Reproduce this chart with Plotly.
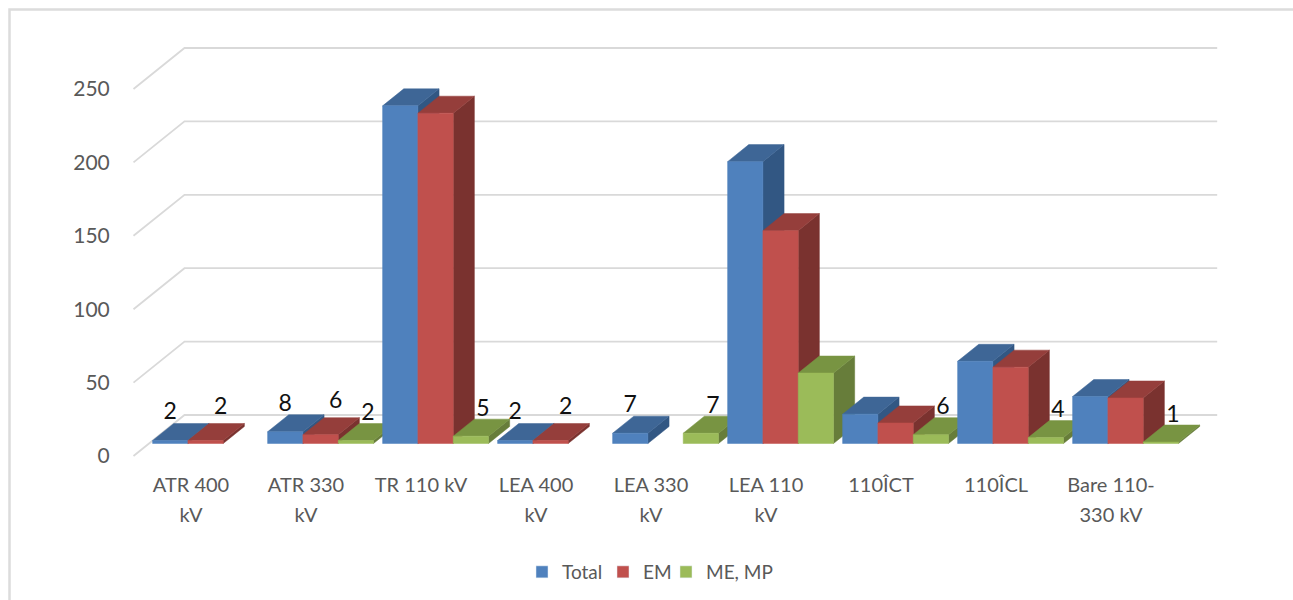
import plotly.graph_objects as go

CATEGORIES_LINE1 = ["ATR 400", "ATR 330", "TR 110 kV", "LEA 400", "LEA 330", "LEA 110", "110ÎCT", "110ÎCL", "Bare 110-"]
CATEGORIES_LINE2 = ["kV", "kV", "", "kV", "kV", "kV", "", "", "330 kV"]
TOTAL = [2, 8, 230, 2, 7, 192, 20, 56, 32]
EM = [2, 6, 225, 2, 0, 145, 14, 52, 31]
ME_MP = [0, 2, 5, 0, 7, 48, 6, 4, 1]
TOTAL_LABELS = [2, 8, None, 2, 7, None, None, None, None]
EM_LABELS = [2, 6, None, 2, None, None, None, None, None]
ME_LABELS = [None, 2, 5, None, 7, None, 6, 4, 1]
Y_TICKS = [0, 50, 100, 150, 200, 250]

W, H = 1293, 600
PX_X, X0 = 115.0, 191.0          # px per category, px of first category
PX_Y, Y0 = 1.468, 456.0          # px per value, px of zero on the front plane
DEPTH_X = 51 / PX_X              # full floor depth in x units
DEPTH_Y = 41 / PX_Y              # full floor depth in value units
BAR_W = 35.3 / PX_X
GROUP_SHIFT = -1 / PX_X
D0, D1 = 0.305, 0.72             # bar front/back position in the depth


def proj(x, v, d):
    return x + DEPTH_X * d, v + DEPTH_Y * d


def poly(points, color):
    xs, ys = zip(*[proj(*p) for p in points])
    return go.Scatter(x=list(xs) + [xs[0]], y=list(ys) + [ys[0]], mode="lines", fill="toself",
                      fillcolor=color, line=dict(width=0.5, color=color), hoverinfo="skip", showlegend=False)


SERIES = [
    ("Total", TOTAL, TOTAL_LABELS, "#4F81BD", "#3E6696", "#325783", 0, 27, 36),
    ("EM", EM, EM_LABELS, "#C0504D", "#953E3B", "#7A322F", 15, 32, 18),
    ("ME, MP", ME_MP, ME_LABELS, "#9BBB59", "#789442", "#677D3A", 12, 26, 70),
]

fig = go.Figure()

# walls: gridlines on the back plane with the left-wall diagonals
gx, gy = [], []
for v in Y_TICKS:
    for x, d in ((-0.5, 0), (-0.5, 1), (8.48, 1)):
        px, py = proj(x, v, d)
        gx.append(px)
        gy.append(py)
    gx.append(None)
    gy.append(None)
fig.add_trace(go.Scatter(x=gx, y=gy, mode="lines", line=dict(color="#D9D9D9", width=1.8),
                         hoverinfo="skip", showlegend=False))

# bars, painted left to right so later fronts cover earlier sides
for i in range(len(TOTAL)):
    for s, (name, vals, _, front, top, side, _, _, _) in enumerate(SERIES):
        v = vals[i]
        if v == 0:
            continue
        x0 = i + GROUP_SHIFT - 1.5 * BAR_W + s * BAR_W
        x1 = x0 + BAR_W
        fig.add_trace(poly([(x1, 0, D0), (x1, 0, D1), (x1, v, D1), (x1, v, D0)], side))
        fig.add_trace(poly([(x0, v, D0), (x1, v, D0), (x1, v, D1), (x0, v, D1)], top))
        fig.add_trace(poly([(x0, 0, D0), (x1, 0, D0), (x1, v, D0), (x0, v, D0)], front))

# data labels
for s, (name, vals, labels, _, _, _, dx, dy, _) in enumerate(SERIES):
    xs, ys, ts = [], [], []
    for i, lab in enumerate(labels):
        if lab is None:
            continue
        x0 = i + GROUP_SHIFT - 1.5 * BAR_W + s * BAR_W
        px, py = proj(x0 + BAR_W / 2, vals[i], D0)
        xs.append(px + dx / PX_X)
        ys.append(py + dy / PX_Y)
        ts.append(str(lab))
    fig.add_trace(go.Scatter(x=xs, y=ys, mode="text", text=ts, textposition="middle center",
                             textfont=dict(family="Lato", size=23, color="#111111"),
                             hoverinfo="skip", showlegend=False))

# legend entries
for name, _, _, front, _, _, _, _, lw in SERIES:
    fig.add_trace(go.Bar(x=[None], y=[None], name=name, marker_color=front, legendwidth=lw))

# carries the second line of the category labels
fig.add_trace(go.Scatter(x=[None], y=[None], xaxis="x2", yaxis="y", mode="markers", showlegend=False, hoverinfo="skip"))

XRANGE = [-X0 / PX_X, (W - X0) / PX_X]
TICKS = list(range(len(TOTAL)))
XFONT = dict(family="Lato", size=20, color="#595959")

fig.update_layout(
    width=W, height=H, autosize=False, margin=dict(l=0, r=0, t=0, b=0),
    paper_bgcolor="white", plot_bgcolor="white",
    xaxis=dict(range=XRANGE, domain=[0, 1], anchor="free", position=(H - 471) / H,
               tickmode="array", tickvals=TICKS, ticktext=CATEGORIES_LINE1,
               tickangle=0, showgrid=False, zeroline=False, showline=False, ticks="", tickfont=XFONT),
    xaxis2=dict(range=XRANGE, domain=[0, 1], anchor="free", position=(H - 501) / H, overlaying="x", side="bottom",
                tickmode="array", tickvals=TICKS, ticktext=CATEGORIES_LINE2,
                tickangle=0, showgrid=False, zeroline=False, showline=False, ticks="", tickfont=XFONT),
    yaxis=dict(range=[-(H - Y0) / PX_Y, Y0 / PX_Y], domain=[0, 1], anchor="free", position=130 / W,
               tickmode="array", tickvals=Y_TICKS, ticks="outside", ticklen=16, tickcolor="rgba(0,0,0,0)",
               showgrid=False, zeroline=False, showline=False,
               tickfont=dict(family="Lato", size=21, color="#595959")),
    legend=dict(orientation="h", x=522 / W, y=(H - 572) / H, xanchor="left", yanchor="middle",
                font=dict(family="Lato", size=19, color="#595959"), bgcolor="rgba(0,0,0,0)"),
    shapes=[dict(type="rect", xref="paper", yref="paper", x0=9.5 / W, x1=1.02, y0=-0.02,
                 y1=(H - 9.5) / H, line=dict(color="#DCDCDC", width=2.5), layer="below")],
)
fig.write_html("out.html", config=dict(displayModeBar=False),
               post_script="document.body.style.margin='0';document.body.style.overflow='hidden';")
